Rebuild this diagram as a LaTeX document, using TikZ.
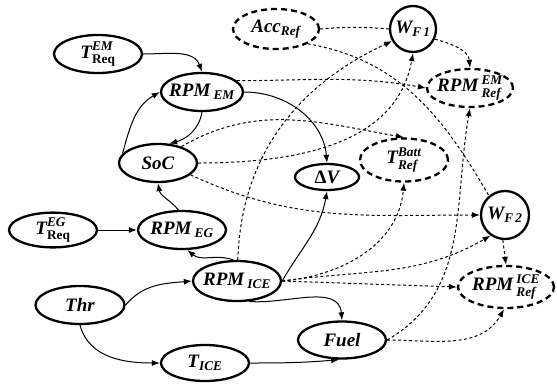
\documentclass[tikz,border=0pt]{standalone}
\usepackage{amsmath}
\usepackage{fontspec}
\setmainfont{Liberation Serif}
\usetikzlibrary{arrows.meta,shapes.geometric}
\newcommand{\vtext}[1]{\makebox[0pt]{#1}}
\newcommand{\upsup}[1]{\text{\raisebox{1.5pt}{#1}}}
\tikzset{
  var/.style={ellipse, draw, line width=2.3pt, inner sep=0pt,
    minimum width=88pt, minimum height=38pt,
    font=\fontsize{19}{21}\selectfont\bfseries\itshape},
  ref/.style={var, dash pattern=on 6pt off 4pt},
  wgt/.style={var, circle, minimum size=46pt},
  flow/.style={-{Latex[length=8pt,width=6pt]}, line width=1pt},
  link/.style={flow, dash pattern=on 3pt off 2.5pt},
  plain/.style={line width=1pt, dash pattern=on 3pt off 2.5pt}
}

\begin{document}
\begin{tikzpicture}
  \useasboundingbox (0,0) rectangle (557pt,-384pt);
  \begin{scope}[x=1pt,y=1pt]
    \node[var] (treqem) at (98,-54) {\vtext{T$^{\upsup{EM}}_{\text{\upshape Req}}$}};
    \node[ref, minimum width=86pt, minimum height=40pt] (accref) at (276,-29) {\vtext{Acc$_{\text{Ref}}$}};
    \node[wgt] (wf1) at (413,-29) {\vtext{W$_{\text{F\,1}}$}};
    \node[var, minimum width=82pt] (rpmem) at (202,-92) {\vtext{RPM\,$_{\text{EM}}$}};
    \node[ref, minimum width=86pt] (rpmemref) at (470,-88) {\vtext{RPM\,$^{\upsup{EM}}_{\text{Ref}}$}};
    \node[var, minimum width=78pt] (soc) at (158,-163) {\vtext{SoC}};
    \node[ref, minimum height=43pt] (tbattref) at (404,-160) {\vtext{T$^{\upsup{Batt}}_{\text{Ref}}$}};
    \node[var, minimum width=64pt, minimum height=26pt] (dv) at (327,-177) {\vtext{{\upshape Δ}V}};
    \node[var, minimum height=34pt] (treqeg) at (53,-230) {\vtext{T$^{\upsup{EG}}_{\text{\upshape Req}}$}};
    \node[var] (rpmeg) at (182,-230) {\vtext{RPM\,$_{\text{EG}}$}};
    \node[wgt, minimum size=48pt] (wf2) at (505,-215) {\vtext{W$_{\text{F\,2}}$}};
    \node[var, minimum height=40pt] (rpmice) at (237,-281) {\vtext{RPM\,$_{\text{ICE}}$}};
    \node[ref, minimum width=96pt, minimum height=42pt] (rpmiceref) at (506,-287) {\vtext{RPM\,$^{\upsup{ICE}}_{\text{Ref}}$}};
    \node[var, minimum width=89pt] (thr) at (80,-305) {\vtext{Thr}};
    \node[var, minimum height=36pt] (tice) at (205,-363) {\vtext{T$_{\text{ICE}}$}};
    \node[var, minimum height=37pt] (fuel) at (342,-340) {\vtext{Fuel}};

    \draw[flow] (treqem.east) to[out=0,in=110] (rpmem.north);
    \draw[flow] (rpmem.south) to[out=-100,in=15] (soc.60);
    \draw[flow] (soc.165) to[out=75,in=210] (rpmem.west);
    \draw[flow] (rpmeg.100) to[out=130,in=-80] (soc.south);
    \draw[flow] (treqeg.east) -- (rpmeg.west);
    \draw[flow] (rpmice.100) to[out=160,in=-40] (rpmeg.-75);
    \draw[flow] (thr.east) to[out=50,in=185] (rpmice.west);
    \draw[flow] (thr.south) to[out=-75,in=180] (tice.west);
    \draw[flow] (rpmice.-60) to[out=-5,in=95] (fuel.north);
    \draw[flow] (tice.east) to[out=0,in=185] (fuel.-98);
    \draw[flow] (rpmem.east) to[out=0,in=95] (dv.north);
    \draw[flow] (rpmice.east) to[out=60,in=-100] (dv.south);

    \draw[plain] (accref.east) to[bend left=5] (wf1.west);
    \draw[plain] (accref.-25) to[out=-10,in=120] (wf2.130);
    \draw[link] (wf1.-25) to[out=-15,in=95] (rpmemref.north);
    \draw[link] (rpmem.18) to[out=0,in=170] (rpmemref.west);
    \draw[link] (rpmice.88) to[out=88,in=205] (wf1.210);
    \draw[link] (soc.east) to[out=0,in=-100] (wf1.south);
    \draw[link] (soc.35) to[out=30,in=170] (tbattref.north);
    \draw[link] (soc.-20) to[out=-25,in=180] (wf2.west);
    \draw[link] (rpmice.east) to[out=5,in=-95] (tbattref.south);
    \draw[link] (rpmice.east) to[out=8,in=210] (wf2.235);
    \draw[link] (rpmice.east) -- (rpmiceref.west);
    \draw[link] (fuel.east) to[out=30,in=-100] (rpmemref.south);
    \draw[link] (fuel.east) to[out=0,in=-120] (rpmiceref.-95);
    \draw[link] (wf2.-95) -- (rpmiceref.north);
  \end{scope}
\end{tikzpicture}
\end{document}
